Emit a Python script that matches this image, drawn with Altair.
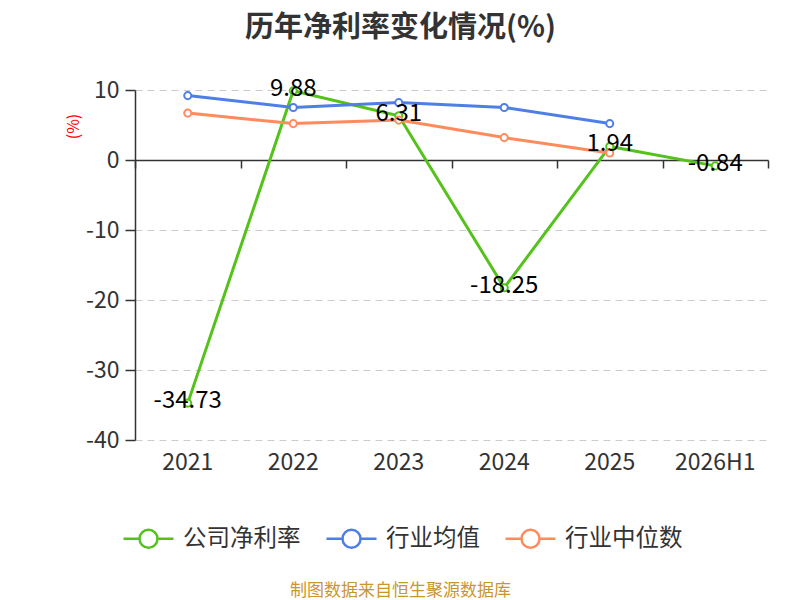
import altair as alt
import pandas as pd

# ---- data ----
years = ["2021", "2022", "2023", "2024", "2025", "2026H1"]
company = [-34.73, 9.88, 6.31, -18.25, 1.94, -0.84]
ind_mean = [9.2, 7.5, 8.2, 7.5, 5.2, None]
ind_median = [6.7, 5.2, 5.7, 3.2, 1.0, None]
series_names = ["公司净利率", "行业均值", "行业中位数"]
series_colors = ["#55c21c", "#4d7fe6", "#ff8b5c"]
y_ticks = [10, 0, -10, -20, -30, -40]

rows = []
for name, vals in zip(series_names, [company, ind_mean, ind_median]):
    for y, v in zip(years, vals):
        if v is not None:
            rows.append({"year": y, "value": v, "series": name})
df = pd.DataFrame(rows)
comp_df = df[df.series == series_names[0]].copy()
comp_df["label"] = comp_df["value"].map(lambda v: f"{v:.2f}")

FONT = "Noto Sans CJK SC"
LEG_PATH = ("M-1,0L-0.36,0M0.36,0L1,0"
            "M0.36,0A0.36,0.36,0,1,1,-0.36,0A0.36,0.36,0,1,1,0.36,0")

xscale = alt.Scale(type="band", domain=years, paddingInner=0, paddingOuter=0)
yscale = alt.Scale(domain=[-40, 10], nice=False, zero=False)
cscale = alt.Scale(domain=series_names, range=series_colors)

x_label_axis = alt.Axis(
    orient="bottom", domain=False, ticks=False, grid=False, labelAngle=0,
    labelFont=FONT, labelFontSize=23, labelColor="#333", labelPadding=11,
    title="制图数据来自恒生聚源数据库", titleFont=FONT, titleFontSize=17,
    titleFontWeight="normal", titleColor="#c9962e", titleX=265, titleY=150,
    titleAlign="center", titleBaseline="middle",
)
x_tick_axis = alt.Axis(
    orient="bottom", offset=-280, labels=False, domain=True, ticks=True,
    tickBand="extent", tickSize=8, tickColor="#333", domainColor="#333",
    domainWidth=1.5, tickWidth=1.5, grid=False, title=None,
)
y_axis = alt.Axis(
    values=y_ticks, grid=True, gridDash=[7, 5], gridColor="#cccccc",
    domainColor="#333", domainWidth=1.5, tickColor="#333", tickSize=10,
    tickWidth=1.5, labelPadding=6, labelFont=FONT, labelFontSize=23,
    labelColor="#333", labelExpr="'' + datum.value",
    title="(%)", titleColor="#ff0000", titleFont=FONT,
    titleFontSize=16, titleFontWeight="normal", titleX=-62, titleY=36,
    titleAngle=-90, titleAlign="center", titleBaseline="middle",
)
legend = alt.Legend(
    orient="none", legendX=-13, legendY=422, direction="horizontal",
    title=None, symbolType=LEG_PATH, symbolSize=2500,
    symbolStrokeWidth=2.5, symbolFillColor="white",
    labelFont=FONT, labelFontSize=23.5, labelColor="#333",
    labelOffset=8, columnPadding=20, padding=0,
)

base = alt.Chart(df)


def line_layer(name, xaxis):
    return base.transform_filter(alt.datum.series == name).mark_line(
        strokeWidth=3
    ).encode(
        x=alt.X("year:N", scale=xscale, axis=xaxis, bandPosition=0.5, sort=years),
        y=alt.Y("value:Q", scale=yscale, axis=y_axis),
        color=alt.Color("series:N", scale=cscale, legend=legend),
    )


l_company = line_layer(series_names[0], x_label_axis)
l_mean = line_layer(series_names[1], x_tick_axis)
l_median = line_layer(series_names[2], None)

points = base.mark_point(
    shape="circle", filled=False, fill="white", size=50, strokeWidth=2, opacity=1
).encode(
    x=alt.X("year:N", scale=xscale, axis=None, bandPosition=0.5, sort=years),
    y=alt.Y("value:Q", scale=yscale, axis=y_axis),
    stroke=alt.Stroke("series:N", scale=cscale, legend=None),
)

labels = alt.Chart(comp_df).mark_text(
    font=FONT, fontSize=24, color="#000", dy=-2, baseline="middle"
).encode(
    x=alt.X("year:N", scale=xscale, axis=None, bandPosition=0.5, sort=years),
    y=alt.Y("value:Q", scale=yscale, axis=y_axis),
    text="label:N",
)

chart = alt.layer(l_company, l_mean, l_median, points, labels).resolve_axis(
    x="independent"
).properties(
    width=633,
    height=350,
    padding={"left": 127, "top": 82, "right": 24, "bottom": 160},
    autosize="none",
    title=alt.TitleParams(
        "历年净利率变化情况(%)", font=FONT, fontSize=29, fontWeight="bold",
        color="#333", anchor="middle", dx=-51, offset=34,
    ),
).configure_view(stroke=None)

chart.save("out.html", embed_options={"renderer": "svg", "actions": False})
